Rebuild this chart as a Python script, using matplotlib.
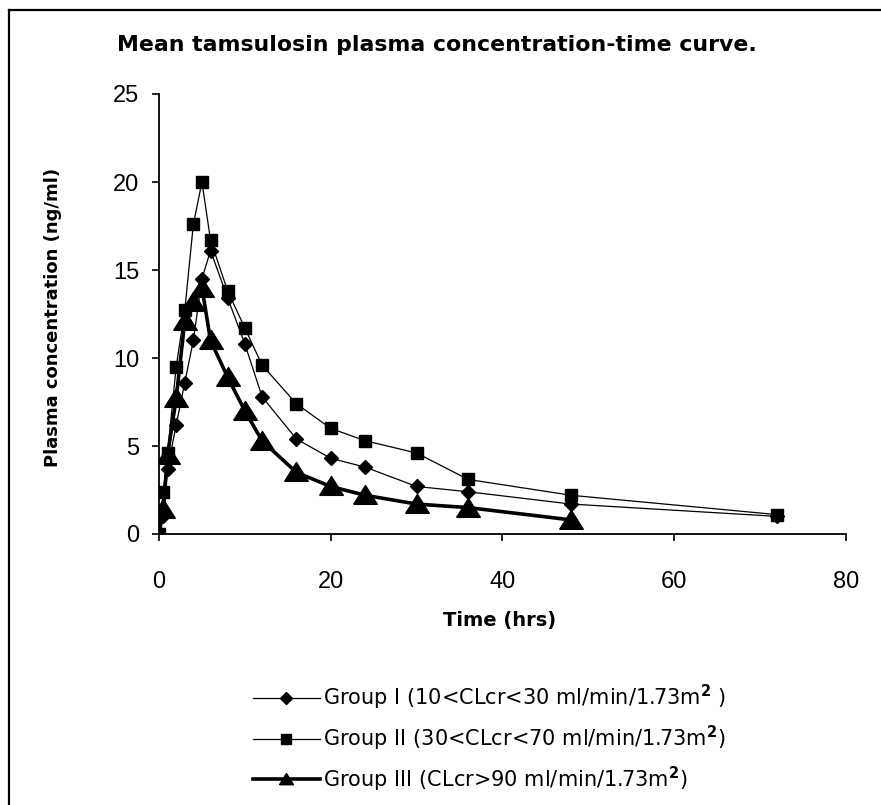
import matplotlib
matplotlib.use("Agg")
import matplotlib.pyplot as plt
from matplotlib.lines import Line2D

plt.rcParams['font.family'] = ['Liberation Sans', 'DejaVu Sans']
plt.rcParams['mathtext.fontset'] = 'custom'
plt.rcParams['mathtext.rm'] = 'DejaVu Sans'
plt.rcParams['mathtext.bf'] = 'DejaVu Sans:bold'

# Sampling times (hours) and mean plasma concentrations (ng/ml)
time_12 = [0, 0.5, 1, 2, 3, 4, 5, 6, 8, 10, 12, 16, 20, 24, 30, 36, 48, 72]
time_3 = [0, 0.5, 1, 2, 3, 4, 5, 6, 8, 10, 12, 16, 20, 24, 30, 36, 48]
group1 = [0, 1.0, 3.7, 6.2, 8.6, 11.0, 14.5, 16.1, 13.4, 10.8, 7.8, 5.4, 4.3, 3.8, 2.7, 2.4, 1.7, 1.0]
group2 = [0, 2.4, 4.6, 9.5, 12.7, 17.6, 20.0, 16.7, 13.8, 11.7, 9.6, 7.4, 6.0, 5.3, 4.6, 3.1, 2.2, 1.1]
group3 = [0, 1.4, 4.5, 7.7, 12.1, 13.2, 14.0, 11.0, 8.9, 7.0, 5.3, 3.5, 2.7, 2.2, 1.7, 1.5, 0.8]

labels = [
    r'Group I (10<CLcr<30 ml/min/1.73m$^{\mathbf{2}}$ )',
    r'Group II (30<CLcr<70 ml/min/1.73m$^{\mathbf{2}}$)',
    r'Group III (CLcr>90 ml/min/1.73m$^{\mathbf{2}}$)',
]
x_ticks = [0, 20, 40, 60, 80]
y_ticks = [0, 5, 10, 15, 20, 25]

W, H = 881, 805
fig = plt.figure(figsize=(W / 100, H / 100), dpi=100)
ax = fig.add_axes([159 / W, 1 - 534 / H, (846 - 159) / W, (534 - 94) / H])

# wide, flat triangle marker
tri = [(-1, -0.75), (1, -0.75), (0, 0.85), (-1, -0.75)]

ax.plot(time_12, group1, color='black', lw=0.9, marker='D', ms=7, zorder=3)
ax.plot(time_12, group2, color='black', lw=0.9, marker='s', ms=8, zorder=4)
ax.plot(time_3, group3, color='black', lw=2.6, marker=tri, ms=17, zorder=5)

ax.set_xlim(0, 80)
ax.set_ylim(0, 25)
ax.set_xticks(x_ticks)
ax.set_yticks(y_ticks)
for s in ['top', 'right']:
    ax.spines[s].set_visible(False)
for s in ['left', 'bottom']:
    ax.spines[s].set_linewidth(1.3)
    ax.spines[s].set_clip_on(False)
ax.tick_params(axis='both', direction='out', length=5, width=1.2, labelsize=17)
ax.tick_params(axis='x', pad=22)
ax.tick_params(axis='y', pad=9)

bold_font = ['DejaVu Sans']
ax.set_xlabel('Time (hrs)', fontsize=14, fontweight='bold', family=bold_font)
ax.set_ylabel('Plasma concentration (ng/ml)', fontsize=13, fontweight='bold', family=bold_font)
ax.xaxis.set_label_coords((500 - 159) / 687, (534 - 611) / 440)
ax.yaxis.set_label_coords((62 - 159) / 687, (534 - 317) / 440)

fig.text(437 / W, 1 - 45 / H, 'Mean tamsulosin plasma concentration-time curve.',
         ha='center', va='center', fontsize=15.8, fontweight='bold', family=bold_font)

handles = [
    Line2D([], [], color='black', lw=0.9, marker='D', ms=6),
    Line2D([], [], color='black', lw=0.9, marker='s', ms=6.5),
    Line2D([], [], color='black', lw=2.6, marker=tri, ms=10),
]
fig.legend(handles, labels, loc='upper left', bbox_to_anchor=(253 / W, 1 - 683 / H),
           frameon=False, prop={'family': ['DejaVu Sans'], 'size': 15},
           handlelength=3.2, handletextpad=0.15,
           labelspacing=0.55, borderpad=0, borderaxespad=0)

# outer frame
fig.add_artist(Line2D([9 / W, 9 / W], [0, 1 - 10 / H], color='black', lw=1.6,
                      transform=fig.transFigure))
fig.add_artist(Line2D([9 / W, 1], [1 - 10 / H, 1 - 10 / H], color='black', lw=1.6,
                      transform=fig.transFigure))

fig.savefig('out.png', dpi=100)
